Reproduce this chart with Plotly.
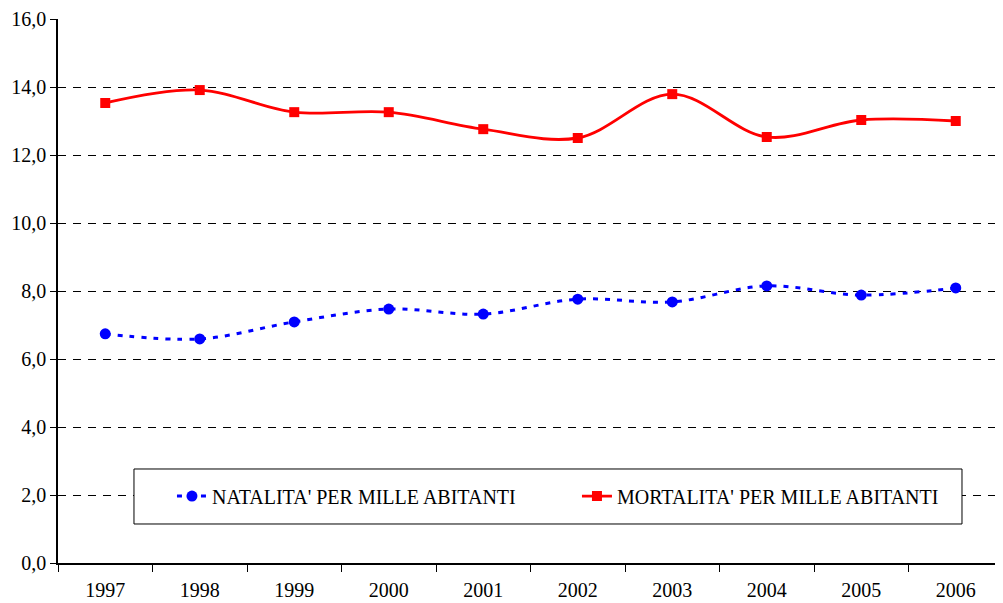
import plotly.graph_objects as go

anni = ["1997", "1998", "1999", "2000", "2001", "2002", "2003", "2004", "2005", "2006"]
natalita = [6.74, 6.59, 7.09, 7.47, 7.32, 7.76, 7.68, 8.15, 7.88, 8.09]
mortalita = [13.53, 13.91, 13.26, 13.26, 12.76, 12.50, 13.79, 12.53, 13.03, 13.00]

font_serif = "Liberation Serif"

fig = go.Figure()
fig.add_trace(go.Scatter(
    x=anni, y=natalita, name="NATALITA' PER MILLE ABITANTI",
    mode="lines+markers",
    line=dict(color="#0000ff", width=3, dash="5px,7px", shape="spline", smoothing=1.0),
    marker=dict(symbol="circle", size=11, color="#0000ff"),
))
fig.add_trace(go.Scatter(
    x=anni, y=mortalita, name="MORTALITA' PER MILLE ABITANTI",
    mode="lines+markers",
    line=dict(color="#ff0000", width=2.8, shape="spline", smoothing=1.0),
    marker=dict(symbol="square", size=10, color="#ff0000"),
))

# riquadro della legenda
fig.add_shape(type="rect", xref="paper", yref="paper",
              x0=0.0804, x1=0.9566, y0=0.0717, y1=0.1728,
              line=dict(color="black", width=1), fillcolor="white", layer="above")

# la pagina html ha 8px di margine: la figura viene ridotta di conseguenza
fig.update_layout(
    width=995, height=595,
    margin=dict(l=50, r=0, t=11, b=40),
    paper_bgcolor="white", plot_bgcolor="white",
    separators=",.",
    font=dict(family=font_serif, size=20, color="black"),
    showlegend=True,
    legend=dict(orientation="h", x=0.1206, y=0.123, xanchor="left", yanchor="middle",
                bgcolor="rgba(0,0,0,0)", entrywidth=360, entrywidthmode="pixels",
                font=dict(family=font_serif, size=20)),
)
fig.update_xaxes(
    type="category", range=[-0.5, 9.5], automargin=False,
    showline=True, linecolor="black", linewidth=1.5,
    ticks="outside", tickson="boundaries", ticklen=7, tickcolor="black",
    ticklabelstandoff=8,
    showgrid=False, zeroline=False,
)
fig.update_yaxes(
    range=[0, 16], dtick=2, tickformat=".1f", automargin=False,
    showline=True, linecolor="black", linewidth=1.5,
    ticks="outside", ticklen=6, tickcolor="black",
    showgrid=True, gridcolor="black", griddash="8px,7px", gridwidth=1,
    zeroline=False,
)

fig.write_html("out.html")
